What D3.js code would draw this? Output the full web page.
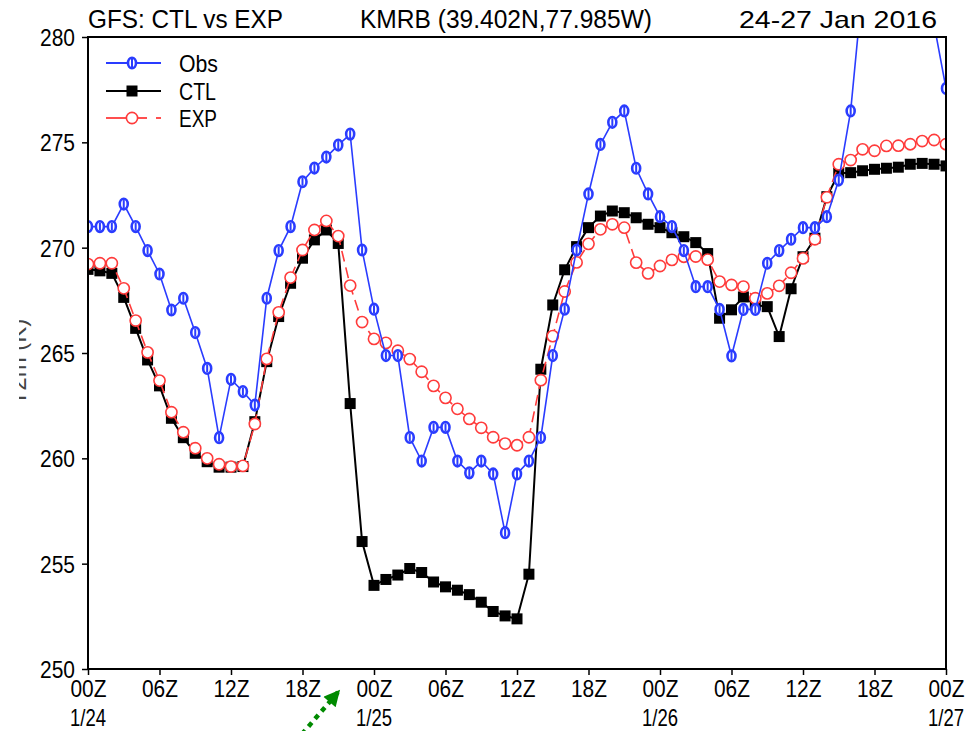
<!DOCTYPE html>
<html>
<head>
<meta charset="utf-8">
<script src="https://cdnjs.cloudflare.com/ajax/libs/d3/7.8.5/d3.min.js"></script>
<style>
    body { margin: 0; background: #fff; }
    text { font-family: "Liberation Sans", "DejaVu Sans", sans-serif; fill: #000; }
</style>
</head>
<body>
<div id="chart"></div>
<script>
// hourly values, 00Z 24 Jan -> 00Z 27 Jan 2016 (T2m in K)
var hours = d3.range(0, 73);

var obs = [271.0, 271.0, 271.0, 272.07, 271.0, 269.86, 268.75, 267.04, 267.6, 265.97,
    264.27, 260.98, 263.75, 263.17, 262.53, 267.6, 269.86, 271.0, 273.13, 273.78,
    274.3, 274.87, 275.39, 269.89, 267.08, 264.88, 264.88, 260.99, 259.87, 261.47,
    261.47, 259.87, 259.31, 259.87, 259.26, 256.47, 259.26, 259.87, 260.99, 264.88,
    267.08, 269.89, 272.55, 274.9, 275.95, 276.49, 273.77, 272.55, 271.47, 271.0,
    269.86, 268.15, 268.15, 267.07, 264.86, 267.07, 267.07, 269.26, 269.86, 270.4,
    270.95, 270.95, 271.47, 273.21, 276.49, 282.4, 284.0, 285.0, 285.5, 285.0,
    283.5, 280.6, 277.56];

var ctl = [268.97, 268.9, 268.78, 267.64, 266.17, 264.67, 263.44, 261.9, 260.98, 260.24,
    259.84, 259.58, 259.58, 259.61, 261.74, 264.59, 266.73, 268.31, 269.5, 270.37,
    270.84, 270.2, 262.6, 256.05, 253.97, 254.25, 254.46, 254.77, 254.58, 254.13,
    253.9, 253.74, 253.53, 253.17, 252.73, 252.52, 252.38, 254.5, 264.23, 267.28,
    268.95, 270.05, 270.95, 271.5, 271.74, 271.66, 271.42, 271.11, 270.95, 270.71,
    270.52, 270.24, 269.72, 266.65, 267.05, 267.66, 267.28, 267.2, 265.78, 268.05,
    269.57, 270.45, 272.42, 273.53, 273.56, 273.65, 273.72, 273.77, 273.82, 273.96,
    274.0, 273.96, 273.88];

var exp = [269.22, 269.26, 269.26, 268.07, 266.54, 265.03, 263.69, 262.19, 261.24, 260.48,
    260.0, 259.72, 259.61, 259.64, 261.63, 264.72, 266.93, 268.58, 269.89, 270.84,
    271.27, 270.55, 268.2, 266.47, 265.67, 265.48, 265.11, 264.71, 264.11, 263.44,
    262.87, 262.35, 261.87, 261.45, 261.0, 260.7, 260.62, 261.0, 263.71, 265.8,
    267.92, 269.3, 270.18, 270.87, 271.11, 270.95, 269.29, 268.78, 269.13, 269.42,
    269.57, 269.58, 269.43, 268.39, 268.23, 268.15, 267.6, 267.83, 268.19, 268.81,
    269.49, 270.4, 272.39, 273.96, 274.16, 274.67, 274.6, 274.83, 274.84, 274.91,
    275.06, 275.11, 274.91];

var xTickLabels = ["00Z", "06Z", "12Z", "18Z", "00Z", "06Z", "12Z", "18Z", "00Z", "06Z", "12Z", "18Z", "00Z"];
var dateLabels = ["1/24", "", "", "", "1/25", "", "", "", "1/26", "", "", "", "1/27"];
var yTicks = [250, 255, 260, 265, 270, 275, 280];
var seriesNames = ["Obs", "CTL", "EXP"];

var width = 974, height = 731;
var margin = {top: 37, right: 28, bottom: 62, left: 88};
var blue = "#2a3cff", red = "#ff3b3b", green = "#008a00";

var svg = d3.select("#chart").append("svg")
    .attr("width", width)
    .attr("height", height);

var x = d3.scaleLinear()
    .domain([0, 72])
    .range([margin.left, width - margin.right]);

var y = d3.scaleLinear()
    .domain([250, 280])
    .range([height - margin.bottom, margin.top]);

// the GrADS font is tall and narrow, so squeeze the text to the width seen
function fit(sel, w) {
    sel.attr("textLength", w).attr("lengthAdjust", "spacingAndGlyphs");
}

// clip for the data
svg.append("clipPath").attr("id", "plotclip")
    .append("rect")
    .attr("x", margin.left).attr("y", margin.top)
    .attr("width", x(72) - x(0)).attr("height", y(250) - y(280));

// y axis
var yAxis = svg.append("g")
    .attr("transform", "translate(" + margin.left + ",0)")
    .call(d3.axisLeft(y).tickValues(yTicks).tickSize(6).tickFormat(d3.format("d")));
yAxis.select(".domain").remove();
yAxis.selectAll("line").attr("stroke", "#000").attr("stroke-width", 1.5);
yAxis.selectAll("text").attr("x", -13).attr("dy", "0.36em").style("font-size", "24px").call(fit, 35);

// x axis, ticks every 6 hours
var xAxis = svg.append("g")
    .attr("transform", "translate(0," + y(250) + ")")
    .call(d3.axisBottom(x).tickValues(d3.range(0, 73, 6)).tickSize(6).tickFormat(function (d, i) { return xTickLabels[i]; }));
xAxis.select(".domain").remove();
xAxis.selectAll("line").attr("stroke", "#000").attr("stroke-width", 1.5);
xAxis.selectAll("text").attr("y", 28).attr("dy", null).style("font-size", "23px").call(fit, 36);

// date row under the hours
svg.append("g").selectAll("text")
    .data(d3.range(0, 73, 6).filter(function (d, i) { return dateLabels[i] != ""; }))
    .enter().append("text")
    .attr("x", function (d) { return x(d); })
    .attr("y", 726)
    .attr("text-anchor", "middle")
    .style("font-size", "24px")
    .text(function (d) { return dateLabels[d / 6]; })
    .call(fit, 36);

// y label, mostly cut off at the left edge
svg.append("clipPath").attr("id", "ylabclip")
    .append("rect").attr("x", 19).attr("y", 300).attr("width", 20).attr("height", 140);
svg.append("g").attr("clip-path", "url(#ylabclip)")
    .append("text")
    .attr("transform", "translate(26,362) rotate(-90)")
    .attr("text-anchor", "middle")
    .style("font-size", "24px")
    .style("fill", "#444")
    .text("T2m (K)");

// title row
svg.append("text").attr("x", 88).attr("y", 28).style("font-size", "25px").text("GFS: CTL vs EXP").call(fit, 195);
svg.append("text").attr("x", 360).attr("y", 28).style("font-size", "25px").text("KMRB (39.402N,77.985W)").call(fit, 292);
svg.append("text").attr("x", 739).attr("y", 28).style("font-size", "24px").text("24-27 Jan 2016").call(fit, 198);

var plot = svg.append("g").attr("clip-path", "url(#plotclip)");

function line(vals) {
    return d3.line()
        .x(function (d, i) { return x(hours[i]); })
        .y(function (d) { return y(d); })(vals);
}

// markers
function obsMark(g, cx, cy) {
    g.append("ellipse").attr("cx", cx).attr("cy", cy).attr("rx", 4).attr("ry", 5.3)
        .attr("fill", "#fff").attr("stroke", blue).attr("stroke-width", 2.6);
    g.append("line").attr("x1", cx).attr("x2", cx).attr("y1", cy - 4).attr("y2", cy + 4)
        .attr("stroke", blue).attr("stroke-width", 2);
}
function ctlMark(g, cx, cy) {
    g.append("rect").attr("x", cx - 5.5).attr("y", cy - 5.5).attr("width", 11).attr("height", 11).attr("fill", "#000");
}
function expMark(g, cx, cy) {
    g.append("circle").attr("cx", cx).attr("cy", cy).attr("r", 5.6)
        .attr("fill", "#fff").attr("stroke", red).attr("stroke-width", 1.6);
}

// CTL
plot.append("path").attr("d", line(ctl)).attr("fill", "none").attr("stroke", "#000").attr("stroke-width", 2);
var gC = plot.append("g");
ctl.forEach(function (v, i) { ctlMark(gC, x(hours[i]), y(v)); });

// EXP
plot.append("path").attr("d", line(exp)).attr("fill", "none").attr("stroke", red)
    .attr("stroke-width", 1.6).attr("stroke-dasharray", "11,6");
var gE = plot.append("g");
exp.forEach(function (v, i) { expMark(gE, x(hours[i]), y(v)); });

// Obs
plot.append("path").attr("d", line(obs)).attr("fill", "none").attr("stroke", blue).attr("stroke-width", 1.6);
var gO = plot.append("g");
obs.forEach(function (v, i) { if (v <= 280.3) obsMark(gO, x(hours[i]), y(v)); });

// frame
svg.append("rect")
    .attr("x", margin.left).attr("y", margin.top)
    .attr("width", x(72) - x(0)).attr("height", y(250) - y(280))
    .attr("fill", "none").attr("stroke", "#000").attr("stroke-width", 2);

// legend
var legend = svg.append("g");
var legY = [63, 91, 118];
var legW = [39, 37, 38];
seriesNames.forEach(function (name, i) {
    var ly = legY[i];
    if (i == 2) {
        legend.append("line").attr("x1", 106).attr("x2", 127).attr("y1", ly).attr("y2", ly).attr("stroke", red).attr("stroke-width", 1.8);
        legend.append("line").attr("x1", 137).attr("x2", 147).attr("y1", ly).attr("y2", ly).attr("stroke", red).attr("stroke-width", 1.8);
        legend.append("line").attr("x1", 156).attr("x2", 161).attr("y1", ly).attr("y2", ly).attr("stroke", red).attr("stroke-width", 1.8);
        expMark(legend, 132, ly);
    } else {
        legend.append("line").attr("x1", 106).attr("x2", 161).attr("y1", ly).attr("y2", ly)
            .attr("stroke", i == 0 ? blue : "#000").attr("stroke-width", 1.8);
        if (i == 0) obsMark(legend, 132, ly); else ctlMark(legend, 132, ly);
    }
    legend.append("text").attr("x", 179).attr("y", ly + 9).style("font-size", "24px").text(name).call(fit, legW[i]);
});

// green dotted arrow under the axis
svg.append("defs").append("marker")
    .attr("id", "arrowhead")
    .attr("viewBox", "0 0 10 10")
    .attr("refX", 9).attr("refY", 5)
    .attr("markerWidth", 4).attr("markerHeight", 3.6)
    .attr("orient", "auto")
    .append("path").attr("d", "M0,0 L10,5 L0,10 z").attr("fill", green);
svg.append("line")
    .attr("x1", 302).attr("y1", 734).attr("x2", 339).attr("y2", 691)
    .attr("stroke", green).attr("stroke-width", 4.5)
    .attr("stroke-dasharray", "5,5")
    .attr("marker-end", "url(#arrowhead)");
</script>
</body>
</html>
